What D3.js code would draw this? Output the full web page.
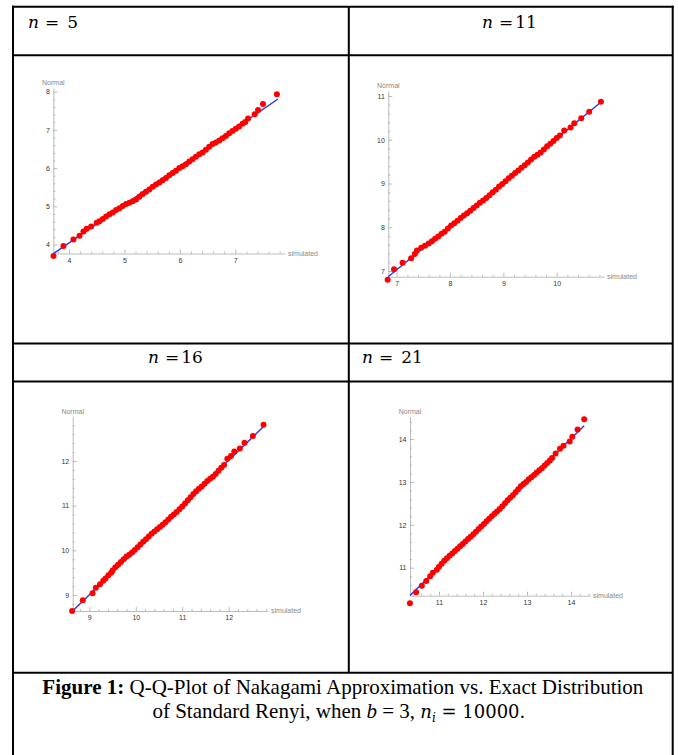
<!DOCTYPE html>
<html lang="en">
<head>
<meta charset="UTF-8">
<title>Q-Q-Plot of Nakagami Approximation</title>
<script src="https://d3js.org/d3.v7.min.js"></script>
<style>
  body { margin: 0; background: #fff; }
  svg text { font-family: 'Liberation Sans', Arial, sans-serif; }
  .serif { font-family: 'Liberation Serif', 'Times New Roman', serif; }
  .math { font-family: 'DejaVu Serif', serif; }
</style>
</head>
<body>
<div id="chart"></div>
<script>
// panel titles (n) and axis names
const panelN = ["5", "11", "16", "21"];
const xName = "simulated";
const yName = "Normal";

// n = 5 : simulated quantiles vs normal quantiles
const sim5 = [3.72, 3.90, 4.08, 4.19, 4.26, 4.32, 4.40, 4.50,
  4.55, 4.61, 4.67, 4.73, 4.79, 4.85, 4.91, 4.97, 5.03, 5.09,
  5.15, 5.21, 5.27, 5.33, 5.39, 5.45, 5.51, 5.57, 5.63, 5.69,
  5.75, 5.81, 5.87, 5.93, 5.99, 6.05, 6.11, 6.17, 6.23, 6.29,
  6.35, 6.41, 6.47, 6.53, 6.59, 6.65, 6.71, 6.77, 6.83, 6.89,
  6.95, 7.01, 7.07, 7.13, 7.18,
  7.23, 7.35, 7.41, 7.50, 7.75];
const norm5 = [3.70, 3.96, 4.13, 4.23, 4.34, 4.41, 4.47, 4.57,
  4.61, 4.67, 4.73, 4.79, 4.84, 4.90, 4.95, 5.01, 5.06, 5.09,
  5.13, 5.18, 5.25, 5.32, 5.38, 5.44, 5.51, 5.57, 5.62, 5.68,
  5.74, 5.81, 5.87, 5.93, 6.00, 6.05, 6.10, 6.17, 6.23, 6.30,
  6.36, 6.41, 6.48, 6.56, 6.63, 6.67, 6.72, 6.78, 6.84, 6.91,
  6.97, 7.03, 7.09, 7.16, 7.21,
  7.30, 7.41, 7.52, 7.68, 7.93];
const line5X = [3.72, 7.77];
const line5Y = [3.76, 7.81];
const xTicks5 = [4, 5, 6, 7];
const yTicks5 = [4, 5, 6, 7, 8];

// n = 11
const sim11 = [6.83, 6.95, 7.11, 7.27, 7.34, 7.38, 7.46, 7.53,
  7.60, 7.66, 7.72, 7.78, 7.84, 7.90, 7.96, 8.02, 8.08, 8.14,
  8.20, 8.26, 8.32, 8.38, 8.44, 8.50, 8.56, 8.62, 8.68, 8.74,
  8.80, 8.86, 8.92, 8.98, 9.04, 9.10, 9.16, 9.22, 9.28, 9.34,
  9.40, 9.46, 9.52, 9.58, 9.64, 9.70, 9.76, 9.82, 9.88, 9.94,
  10.00, 10.06,
  10.14, 10.26, 10.33, 10.46, 10.61, 10.83];
const norm11 = [6.80, 7.04, 7.19, 7.29, 7.39, 7.47, 7.53, 7.58,
  7.63, 7.68, 7.74, 7.79, 7.85, 7.90, 7.97, 8.04, 8.09, 8.15,
  8.21, 8.27, 8.32, 8.38, 8.44, 8.50, 8.56, 8.61, 8.67, 8.73,
  8.80, 8.86, 8.93, 8.99, 9.05, 9.12, 9.18, 9.24, 9.30, 9.36,
  9.42, 9.48, 9.55, 9.61, 9.66, 9.71, 9.78, 9.85, 9.91, 9.97,
  10.04, 10.10,
  10.21, 10.28, 10.38, 10.49, 10.64, 10.87];
const line11X = [6.84, 10.81];
const line11Y = [6.87, 10.84];
const xTicks11 = [7, 8, 9, 10];
const yTicks11 = [7, 8, 9, 10, 11];

// n = 16
const sim16 = [8.63, 8.86, 9.07, 9.14, 9.23, 9.30, 9.35, 9.41, 9.47,
  9.50, 9.56, 9.62, 9.68, 9.74, 9.80, 9.86, 9.92, 9.98, 10.04,
  10.10, 10.16, 10.22, 10.28, 10.34, 10.40, 10.46, 10.52, 10.58, 10.64,
  10.70, 10.76, 10.82, 10.88, 10.94, 11.00, 11.06, 11.12, 11.18, 11.24,
  11.30, 11.36, 11.42, 11.48, 11.54, 11.60, 11.66, 11.72, 11.78, 11.84,
  11.90,
  11.97, 12.05, 12.12, 12.24, 12.34, 12.52, 12.75];
const norm16 = [8.64, 8.88, 9.04, 9.16, 9.24, 9.32, 9.37, 9.44, 9.50,
  9.55, 9.62, 9.68, 9.74, 9.80, 9.86, 9.90, 9.95, 10.01, 10.07,
  10.13, 10.19, 10.25, 10.31, 10.37, 10.42, 10.47, 10.52, 10.57, 10.63,
  10.69, 10.75, 10.80, 10.86, 10.92, 10.98, 11.05, 11.12, 11.19, 11.26,
  11.32, 11.38, 11.43, 11.49, 11.55, 11.60, 11.65, 11.71, 11.78, 11.85,
  11.91,
  12.05, 12.11, 12.21, 12.28, 12.41, 12.56, 12.81];
const line16X = [8.64, 12.75];
const line16Y = [8.64, 12.77];
const xTicks16 = [9, 10, 11, 12];
const yTicks16 = [9, 10, 11, 12];

// n = 21
const sim21 = [10.34, 10.48, 10.61, 10.71, 10.80, 10.86, 10.95, 11.00,
  11.06, 11.12, 11.18, 11.24, 11.30, 11.36, 11.42, 11.48, 11.54, 11.60,
  11.66, 11.72, 11.78, 11.84, 11.90, 11.96, 12.02, 12.08, 12.14, 12.20,
  12.26, 12.32, 12.38, 12.44, 12.50, 12.56, 12.62, 12.68, 12.74, 12.80,
  12.86, 12.92, 12.98, 13.04, 13.10, 13.16, 13.22, 13.28, 13.34, 13.40,
  13.46, 13.52, 13.57,
  13.65, 13.75, 13.83, 13.97, 14.03, 14.15, 14.30];
const norm21 = [10.17, 10.43, 10.58, 10.69, 10.80, 10.88, 10.95, 11.02,
  11.09, 11.16, 11.22, 11.28, 11.33, 11.39, 11.44, 11.50, 11.55, 11.61,
  11.67, 11.72, 11.78, 11.84, 11.90, 11.96, 12.02, 12.08, 12.14, 12.20,
  12.26, 12.31, 12.37, 12.43, 12.50, 12.57, 12.63, 12.69, 12.76, 12.83,
  12.90, 12.95, 13.00, 13.06, 13.11, 13.16, 13.22, 13.27, 13.32, 13.38,
  13.44, 13.50, 13.56,
  13.66, 13.77, 13.84, 13.94, 14.05, 14.22, 14.46];
const line21X = [10.34, 14.30];
const line21Y = [10.35, 14.31];
const xTicks21 = [11, 12, 13, 14];
const yTicks21 = [11, 12, 13, 14];

const W = 678, H = 755;
const svg = d3.select("#chart").append("svg")
  .attr("width", W).attr("height", H);

// soft edge for the plotted marks (source image is slightly blurred)
svg.append("defs").append("filter").attr("id", "soft")
  .append("feGaussianBlur").attr("stdDeviation", 0.45);

// ---- table grid ----
const grid = svg.append("g").attr("stroke", "#000").attr("stroke-width", 2);
const L = 13, R = 672.7, M = 348.8;
[[L, 5.7, L, H], [R, 5.7, R, H], [M, 6.7, M, 672.8],
 [L - 1, 6.7, R + 1, 6.7], [L, 55.3, R, 55.3], [L, 343.5, R, 343.5],
 [L, 381.5, R, 381.5], [L, 672.8, R, 672.8]]
  .forEach(d => grid.append("line")
    .attr("x1", d[0]).attr("y1", d[1]).attr("x2", d[2]).attr("y2", d[3]));

// ---- header cells ----
const heads = [
  { x: 28, y: 27.5, gap1: 6, gap2: 8 },
  { x: 482, y: 27.5, gap1: 6, gap2: 2 },
  { x: 148, y: 363, gap1: 6, gap2: 2 },
  { x: 362, y: 363, gap1: 6, gap2: 8 }
];
heads.forEach((h, i) => {
  const t = svg.append("text").attr("class", "math")
    .attr("x", h.x).attr("y", h.y)
    .attr("font-size", 17).attr("fill", "#000");
  t.append("tspan").attr("font-style", "italic").text("n");
  t.append("tspan").attr("dx", h.gap1).text("=");
  t.append("tspan").attr("dx", h.gap2).text(panelN[i]);
});

// ---- panels ----
const frames = [
  { xt: [4, 7], xp: [69, 235.3], yt: [4, 8], yp: [244.5, 91.7], axX: 53.3, axY: 253.5, xEnd: 285, yTop: 88 },
  { xt: [7, 10], xp: [396.7, 556.7], yt: [7, 11], yp: [271, 96], axX: 388.3, axY: 276.7, xEnd: 604, yTop: 91 },
  { xt: [9, 12], xp: [89.3, 228.7], yt: [9, 12], yp: [595, 461], axX: 72.7, axY: 611, xEnd: 268, yTop: 416.5 },
  { xt: [11, 14], xp: [439, 571], yt: [11, 14], yp: [567.7, 439], axX: 410, axY: 595.7, xEnd: 590, yTop: 416.5 }
];

function minorTicks(a, b, majors) {
  const out = [];
  for (let k = Math.ceil(a / 0.2); k * 0.2 <= b; k++) {
    const v = +(k * 0.2).toFixed(2);
    if (!majors.some(m => Math.abs(m - v) < 1e-6)) out.push(v);
  }
  return out;
}

function drawPanel(cfg, sim, norm, lineX, lineY, xTicks, yTicks) {
  const g = svg.append("g");
  const sx0 = d3.scaleLinear().domain(cfg.xt).range(cfg.xp);
  const sy0 = d3.scaleLinear().domain(cfg.yt).range(cfg.yp);
  const x0 = sx0.invert(cfg.axX), x1 = sx0.invert(cfg.xEnd);
  const y0 = sy0.invert(cfg.axY), y1 = sy0.invert(cfg.yTop);
  const sx = d3.scaleLinear().domain([x0, x1]).range([cfg.axX, cfg.xEnd]);
  const sy = d3.scaleLinear().domain([y0, y1]).range([cfg.axY, cfg.yTop]);

  // minor ticks
  g.append("g").attr("transform", `translate(0,${cfg.axY})`)
    .call(d3.axisBottom(sx).tickValues(minorTicks(x0, x1, xTicks)).tickSize(-2).tickFormat(""))
    .call(a => a.select(".domain").remove());
  g.append("g").attr("transform", `translate(${cfg.axX},0)`)
    .call(d3.axisLeft(sy).tickValues(minorTicks(y0, y1, yTicks)).tickSize(-2).tickFormat(""))
    .call(a => a.select(".domain").remove());

  // major ticks + axis lines
  g.append("g").attr("transform", `translate(0,${cfg.axY})`)
    .call(d3.axisBottom(sx).tickValues(xTicks).tickFormat(d3.format("d"))
      .tickSize(-4).tickSizeOuter(0).tickPadding(4.5));
  g.append("g").attr("transform", `translate(${cfg.axX},0)`)
    .call(d3.axisLeft(sy).tickValues(yTicks).tickFormat(d3.format("d"))
      .tickSize(-4).tickSizeOuter(0).tickPadding(3.5));

  g.selectAll(".domain, .tick line").attr("stroke", "#aaa").attr("stroke-width", 0.8);
  g.selectAll(".tick text").attr("fill", "#333").attr("font-size", 7)
    .attr("font-family", "'Liberation Sans', Arial, sans-serif");

  g.append("text").attr("x", cfg.axX).attr("y", cfg.yTop - 3)
    .attr("text-anchor", "middle").attr("font-size", 7).attr("fill", "#888").text(yName);
  g.append("text").attr("x", cfg.xEnd + 3).attr("y", cfg.axY).attr("dy", "0.35em")
    .attr("font-size", 7).attr("fill", "#888").text(xName);

  const marks = g.append("g").attr("filter", "url(#soft)");
  // reference line
  marks.append("line")
    .attr("x1", sx(lineX[0])).attr("y1", sy(lineY[0]))
    .attr("x2", sx(lineX[1])).attr("y2", sy(lineY[1]))
    .attr("stroke", "#2b35f0").attr("stroke-width", 1.4);

  // quantile points
  const pts = d3.zip(sim, norm);
  marks.selectAll("circle").data(pts).enter().append("circle")
    .attr("cx", d => sx(d[0])).attr("cy", d => sy(d[1]))
    .attr("r", 3).attr("fill", "#ff0000");
}

drawPanel(frames[0], sim5, norm5, line5X, line5Y, xTicks5, yTicks5);
drawPanel(frames[1], sim11, norm11, line11X, line11Y, xTicks11, yTicks11);
drawPanel(frames[2], sim16, norm16, line16X, line16Y, xTicks16, yTicks16);
drawPanel(frames[3], sim21, norm21, line21X, line21Y, xTicks21, yTicks21);

// ---- caption ----
const cx = (L + R) / 2;
const c1 = svg.append("text").attr("class", "serif")
  .attr("x", cx).attr("y", 694).attr("text-anchor", "middle")
  .attr("font-size", 21).attr("fill", "#000");
c1.append("tspan").attr("font-weight", "bold").text("Figure 1:");
c1.append("tspan").text(" Q-Q-Plot of Nakagami Approximation vs. Exact Distribution");

const c2 = svg.append("text").attr("class", "serif")
  .attr("x", cx - 4).attr("y", 718).attr("text-anchor", "middle")
  .attr("font-size", 21).attr("fill", "#000")
  .attr("xml:space", "preserve");
c2.append("tspan").text("of Standard Renyi, when ");
c2.append("tspan").attr("font-style", "italic").text("b");
c2.append("tspan").text(" = 3, ");
c2.append("tspan").attr("class", "math").attr("font-size", 18).attr("font-style", "italic").text("n");
c2.append("tspan").attr("class", "math").attr("font-size", 12).attr("font-style", "italic").attr("dy", 4).text("i");
c2.append("tspan").attr("class", "math").attr("font-size", 18).attr("dy", -4).text(" = 10000.");
</script>
</body>
</html>
